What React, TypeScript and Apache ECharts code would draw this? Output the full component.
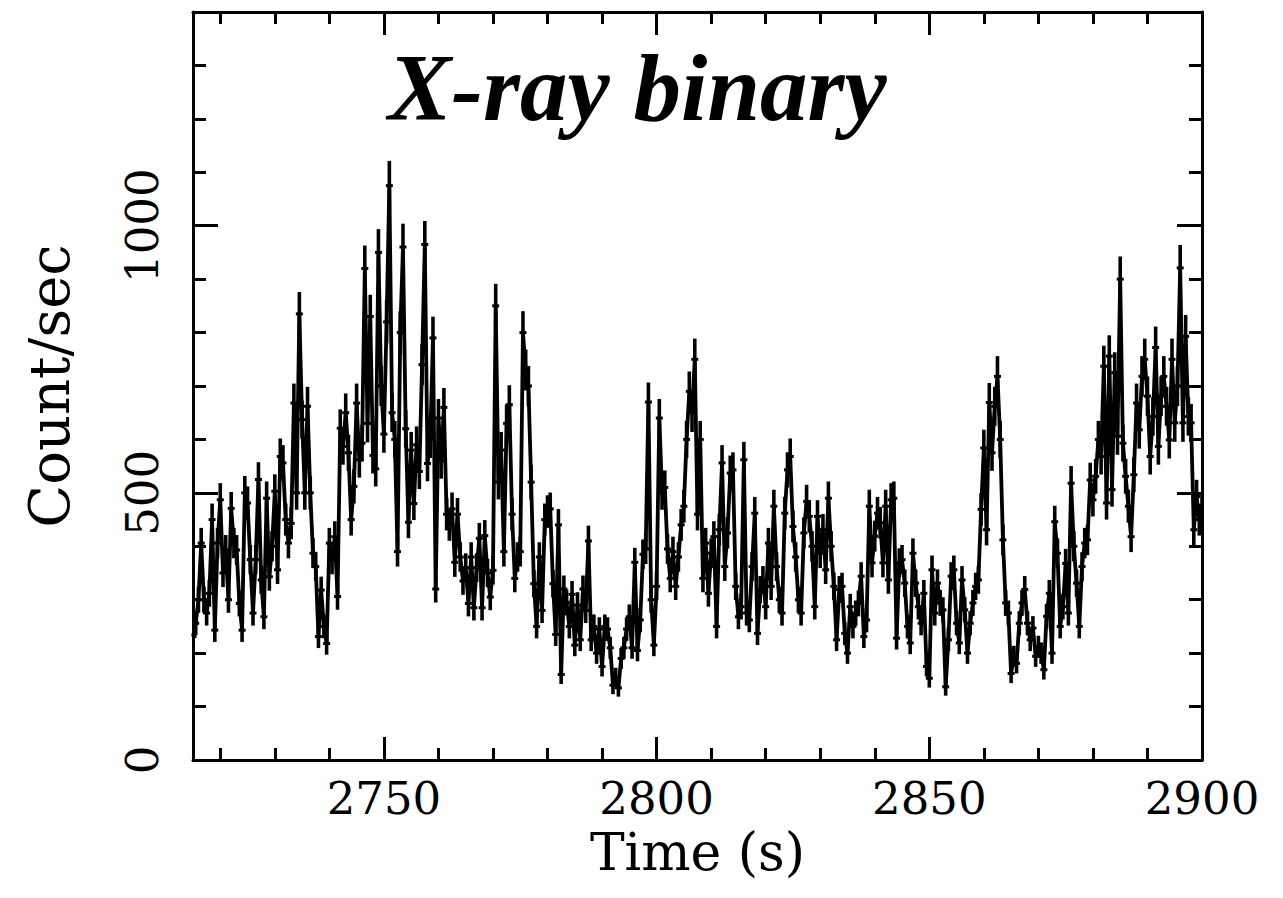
import React, { useEffect, useRef } from "react";
import * as echarts from "echarts";

// Light curve: 0.5 s bins starting at t = 2715 s
const T0 = 2715;
const BIN = 0.5;

const rateA = [
  231, 256, 300, 406, 300, 275, 312, 450, 243, 406,
  487, 350, 393, 300, 471, 406, 393, 293, 243, 500,
  481, 375, 275, 375, 525, 337, 268, 490, 343, 400,
  503, 356, 568, 556, 450, 406, 443, 668, 500, 835,
  637, 500, 662, 500, 387, 362, 231, 318, 250, 218,
  406, 375, 418, 306, 621, 587, 650, 575, 450, 512,
  668, 562, 593,
];
const rateB = [
  920, 630, 830, 570, 545, 950, 700, 610, 820, 1075,
  650, 600, 390, 800, 960, 620, 445, 580, 480, 590,
  540, 740, 965, 555, 600, 790, 320, 640, 560, 660,
  460, 440, 470, 370, 460, 380, 335, 360, 293, 380,
  285, 360, 415, 285, 420, 350, 305, 355, 850, 520,
  580, 390, 630, 665, 460, 340, 380, 390, 800, 730,
  700,
];
const rateC = [
  520, 330, 250, 380, 280, 450, 465, 470, 330, 235,
  440, 160, 320, 295, 250, 310, 215, 290, 225, 320,
  280, 410, 225, 250, 200, 245, 175, 250, 245, 210,
  140, 155, 135, 190, 210, 245, 268, 210, 370, 205,
  262, 385, 395, 670, 300, 215, 325, 640, 500, 510,
  395, 340, 390, 325, 380, 440, 475, 600, 690, 650,
];
const rateD = [
  750, 460, 600, 340, 406, 312, 387, 418, 250, 431,
  556, 362, 425, 537, 543, 325, 268, 287, 562, 275,
  262, 362, 462, 237, 319, 337, 287, 406, 325, 475,
  362, 300, 275, 462, 543, 568, 437, 380, 300, 275,
  425, 484, 456, 400, 287, 456, 387, 431, 356, 490,
  400, 325, 225, 319, 325, 237, 200, 287, 250, 275,
  293,
];
const rateE = [
  344, 231, 262, 475, 369, 419, 462, 444, 369, 475,
  337, 487, 490, 228, 369, 375, 331, 250, 219, 387,
  331, 287, 256, 312, 175, 153, 356, 275, 331, 294,
  281, 137, 225, 344, 356, 256, 219, 337, 281, 200,
  256, 294, 325, 337, 469, 584, 431, 669, 575, 662,
  718, 600, 412, 294, 275, 162, 194, 181, 256, 294,
];
const rateF = [
  319, 256, 225, 247, 194, 212, 200, 169, 269, 312,
  200, 446, 387, 250, 287, 368, 275, 518, 400, 331,
  250, 362, 406, 412, 524, 487, 531, 600, 568, 737,
  481, 756, 506, 725, 606, 900, 593, 531, 475, 418,
  534, 668, 618, 718, 750, 681, 568, 643, 772, 587,
  681, 718, 662, 599, 750, 631, 700, 921, 631, 793,
  643, 631, 431, 493, 450, 470,
];

const xMajor = [2750, 2800, 2850, 2900];
const xMinor = [2720, 2730, 2740, 2760, 2770, 2780, 2790, 2810, 2820, 2830, 2840, 2860, 2870, 2880, 2890];
const yMajor = [0, 500, 1000];

const X_MIN = 2715;
const X_MAX = 2900;
const Y_MIN = 0;
const Y_MAX = 1400;

const FONT = "DejaVu Serif";

export default function App() {
  const ref = useRef<HTMLDivElement>(null);

  useEffect(() => {
    if (!ref.current) return;
    const chart = echarts.init(ref.current, undefined, { renderer: "svg" });

    const rates = [...rateA, ...rateB, ...rateC, ...rateD, ...rateE, ...rateF];
    const line = rates.map((v, i) => [T0 + i * BIN, v]);
    // Poisson error of a count rate in a bin of width BIN
    const bars = rates.map((v, i) => {
      const e = Math.sqrt(v * BIN) / BIN;
      return [T0 + i * BIN, v, v - e, v + e];
    });

    const black = "#000";
    const plain = (v: number) => String(v);
    const baseX = {
      type: "value",
      min: X_MIN,
      max: X_MAX,
      splitLine: { show: false },
    };
    const baseY = {
      type: "value",
      min: Y_MIN,
      max: Y_MAX,
      splitLine: { show: false },
    };

    chart.setOption({
      animation: false,
      backgroundColor: "#fff",
      title: {
        text: "X-ray binary",
        left: 388,
        top: 40,
        padding: 0,
        textStyle: {
          fontFamily: "Liberation Serif",
          fontStyle: "italic",
          fontWeight: "bold",
          fontSize: 95,
          color: black,
        },
      },
      grid: { left: 193, right: 81, top: 12, bottom: 138, containLabel: false },
      xAxis: [
        {
          ...baseX,
          position: "bottom",
          axisLine: { show: true, onZero: false, lineStyle: { color: black, width: 3 } },
          axisTick: { show: true, inside: true, length: 23, customValues: xMajor, lineStyle: { color: black, width: 3 } },
          axisLabel: {
            show: true,
            customValues: xMajor,
            formatter: plain,
            margin: 16,
            color: black,
            fontFamily: FONT,
            fontSize: 45,
          },
          name: "Time (s)",
          nameLocation: "middle",
          nameGap: 66,
          nameTextStyle: { fontFamily: FONT, fontSize: 52, color: black },
        },
        {
          ...baseX,
          position: "bottom",
          axisLine: { show: false, onZero: false },
          axisTick: { show: true, inside: true, length: 12, customValues: xMinor, lineStyle: { color: black, width: 3 } },
          axisLabel: { show: false },
        },
        {
          ...baseX,
          position: "top",
          axisLine: { show: true, onZero: false, lineStyle: { color: black, width: 3 } },
          axisTick: { show: true, inside: true, length: 23, customValues: xMajor, lineStyle: { color: black, width: 3 } },
          axisLabel: { show: false },
        },
        {
          ...baseX,
          position: "top",
          axisLine: { show: false, onZero: false },
          axisTick: { show: true, inside: true, length: 12, customValues: xMinor, lineStyle: { color: black, width: 3 } },
          axisLabel: { show: false },
        },
      ],
      yAxis: [
        {
          ...baseY,
          position: "left",
          interval: 100,
          axisLine: { show: true, onZero: false, lineStyle: { color: black, width: 3 } },
          axisTick: { show: true, inside: true, length: 13, lineStyle: { color: black, width: 3 } },
          axisLabel: { show: false },
          name: "Count/sec",
          nameLocation: "middle",
          nameGap: 116,
          nameTextStyle: { fontFamily: FONT, fontSize: 56, color: black },
        },
        {
          ...baseY,
          position: "left",
          axisLine: { show: false, onZero: false },
          axisTick: { show: true, inside: true, length: 25, customValues: yMajor, lineStyle: { color: black, width: 3 } },
          axisLabel: {
            show: true,
            customValues: yMajor,
            formatter: plain,
            rotate: 90,
            margin: 28,
            color: black,
            fontFamily: FONT,
            fontSize: 45,
          },
        },
        {
          ...baseY,
          position: "right",
          interval: 100,
          axisLine: { show: true, onZero: false, lineStyle: { color: black, width: 3 } },
          axisTick: { show: true, inside: true, length: 13, lineStyle: { color: black, width: 3 } },
          axisLabel: { show: false },
        },
        {
          ...baseY,
          position: "right",
          axisLine: { show: false, onZero: false },
          axisTick: { show: true, inside: true, length: 25, customValues: yMajor, lineStyle: { color: black, width: 3 } },
          axisLabel: { show: false },
        },
      ],
      series: [
        {
          type: "line",
          xAxisIndex: 0,
          yAxisIndex: 0,
          data: line,
          showSymbol: false,
          symbol: "none",
          lineStyle: { color: black, width: 3.8 },
          clip: true,
          z: 3,
        },
        {
          type: "custom",
          xAxisIndex: 0,
          yAxisIndex: 0,
          data: bars,
          clip: true,
          z: 4,
          renderItem: (params: any, api: any) => {
            const t = api.value(0);
            const v = api.value(1);
            const lo = api.coord([t, api.value(2)]);
            const hi = api.coord([t, api.value(3)]);
            const c = api.coord([t, v]);
            return {
              type: "group",
              children: [
                {
                  type: "line",
                  shape: { x1: lo[0], y1: lo[1], x2: hi[0], y2: hi[1] },
                  style: { stroke: black, lineWidth: 3.6 },
                },
                {
                  type: "line",
                  shape: { x1: c[0] - 3.5, y1: c[1], x2: c[0] + 3.5, y2: c[1] },
                  style: { stroke: black, lineWidth: 3 },
                },
              ],
            };
          },
        },
      ],
    });

    return () => chart.dispose();
  }, []);

  return (
    <div
      ref={ref}
      style={{ position: "absolute", left: 0, top: 0, width: 1283, height: 898, background: "#fff" }}
    />
  );
}
